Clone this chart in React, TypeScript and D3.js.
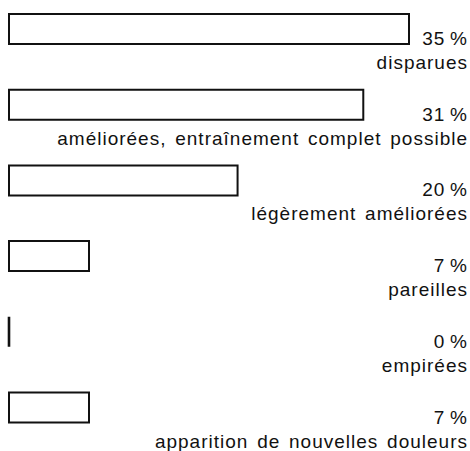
import React from "react";
import * as d3 from "d3";

const categories = [
  "disparues",
  "améliorées, entraînement complet possible",
  "légèrement améliorées",
  "pareilles",
  "empirées",
  "apparition de nouvelles douleurs",
];
const values = [35, 31, 20, 7, 0, 7];
const valueLabels = ["35 %", "31 %", "20 %", "7 %", "0 %", "7 %"];

const W = 470;
const H = 451;
const X0 = 9;
const BAR_H = 30;
const TEXT_RIGHT = 467;
const FONT = "'Liberation Sans', Arial, sans-serif";
const FS = 19;
const LS = 1;
const WS = 2.5;

export default function App() {
  const x = d3.scaleLinear().domain([0, 35]).range([X0, 409]);
  const y = d3.scalePoint<string>().domain(categories).range([14, 392.5]);

  return (
    <svg
      width={W}
      height={H}
      style={{ position: "absolute", left: 0, top: 0, background: "#fff" }}
    >
      {categories.map((c, i) => {
        const top = y(c)!;
        const x1 = x(values[i]);
        const p = d3.path();
        p.moveTo(X0, top);
        p.lineTo(x1, top);
        p.lineTo(x1, top + BAR_H);
        p.lineTo(X0, top + BAR_H);
        p.closePath();
        return (
          <g key={c}>
            <path
              d={p.toString()}
              fill="#fff"
              stroke="#111"
              strokeWidth={values[i] === 0 ? 2.6 : 2}
            />
            <text
              x={TEXT_RIGHT + LS}
              y={top + BAR_H + 1}
              textAnchor="end"
              fontFamily={FONT}
              fontSize={FS}
              letterSpacing={LS}
              fill="#111"
            >
              {valueLabels[i].replace(" ", "\u2009")}
            </text>
            <text
              x={TEXT_RIGHT + LS}
              y={top + BAR_H + 25}
              textAnchor="end"
              fontFamily={FONT}
              fontSize={FS}
              letterSpacing={LS}
              wordSpacing={WS}
              fill="#111"
            >
              {c}
            </text>
          </g>
        );
      })}
    </svg>
  );
}
